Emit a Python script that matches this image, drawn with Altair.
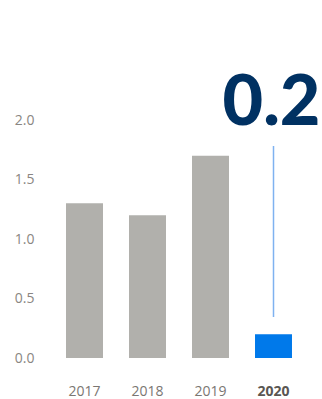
import altair as alt
import pandas as pd

years = ["2017", "2018", "2019", "2020"]
values = [1.3, 1.2, 1.7, 0.2]
highlight = [False, False, False, True]
y_ticks = [0.0, 0.5, 1.0, 1.5, 2.0]
callout_text = "0.2"

df = pd.DataFrame({"year": years, "value": values, "hl": highlight})
callout = pd.DataFrame({"year": [years[-1]], "label": [callout_text]})

x_enc = alt.X(
    "year:N",
    sort=years,
    title=None,
    scale=alt.Scale(paddingInner=0.413, paddingOuter=0.2065),
    axis=alt.Axis(
        labelAngle=0,
        domain=False,
        ticks=False,
        labelPadding=26,
        labelFont="Open Sans",
        labelFontSize=14,
        labelColor=alt.expr("datum.value == '2020' ? '#5a5652' : '#7a7672'"),
        labelFontWeight=alt.expr("datum.value == '2020' ? 'bold' : 'normal'"),
    ),
)

bars = alt.Chart(df).mark_bar().encode(
    x=x_enc,
    y=alt.Y(
        "value:Q",
        title=None,
        scale=alt.Scale(domain=[0, 2.0], nice=False),
        axis=alt.Axis(
            values=y_ticks,
            format=".1f",
            domain=False,
            ticks=False,
            grid=False,
            labelPadding=19,
            labelFont="Open Sans",
            labelFontSize=14,
            labelColor="#8a8682",
        ),
    ),
    color=alt.condition("datum.hl", alt.value("#0079ea"), alt.value("#b1b0ac")),
)

rule = alt.Chart(callout).mark_rule(color="#7fb2f0", strokeWidth=1.5).encode(
    x=alt.X("year:N", sort=years),
    y=alt.value(26),
    y2=alt.value(197),
)

text = alt.Chart(callout).mark_text(
    font="Lato",
    fontWeight=900,
    fontSize=70,
    color="#003162",
    baseline="alphabetic",
    align="center",
    dx=-2,
).encode(
    x=alt.X("year:N", sort=years),
    y=alt.value(5),
    text="label:N",
)

chart = (
    alt.layer(bars, rule, text)
    .properties(
        width=252,
        height=238,
        background="white",
        autosize=alt.AutoSizeParams(type="none"),
        padding={"left": 53, "top": 120, "right": 17, "bottom": 41},
    )
    .configure_view(stroke=None, strokeWidth=0)
)

chart.save("out.html", embed_options={"renderer": "svg", "actions": False})
